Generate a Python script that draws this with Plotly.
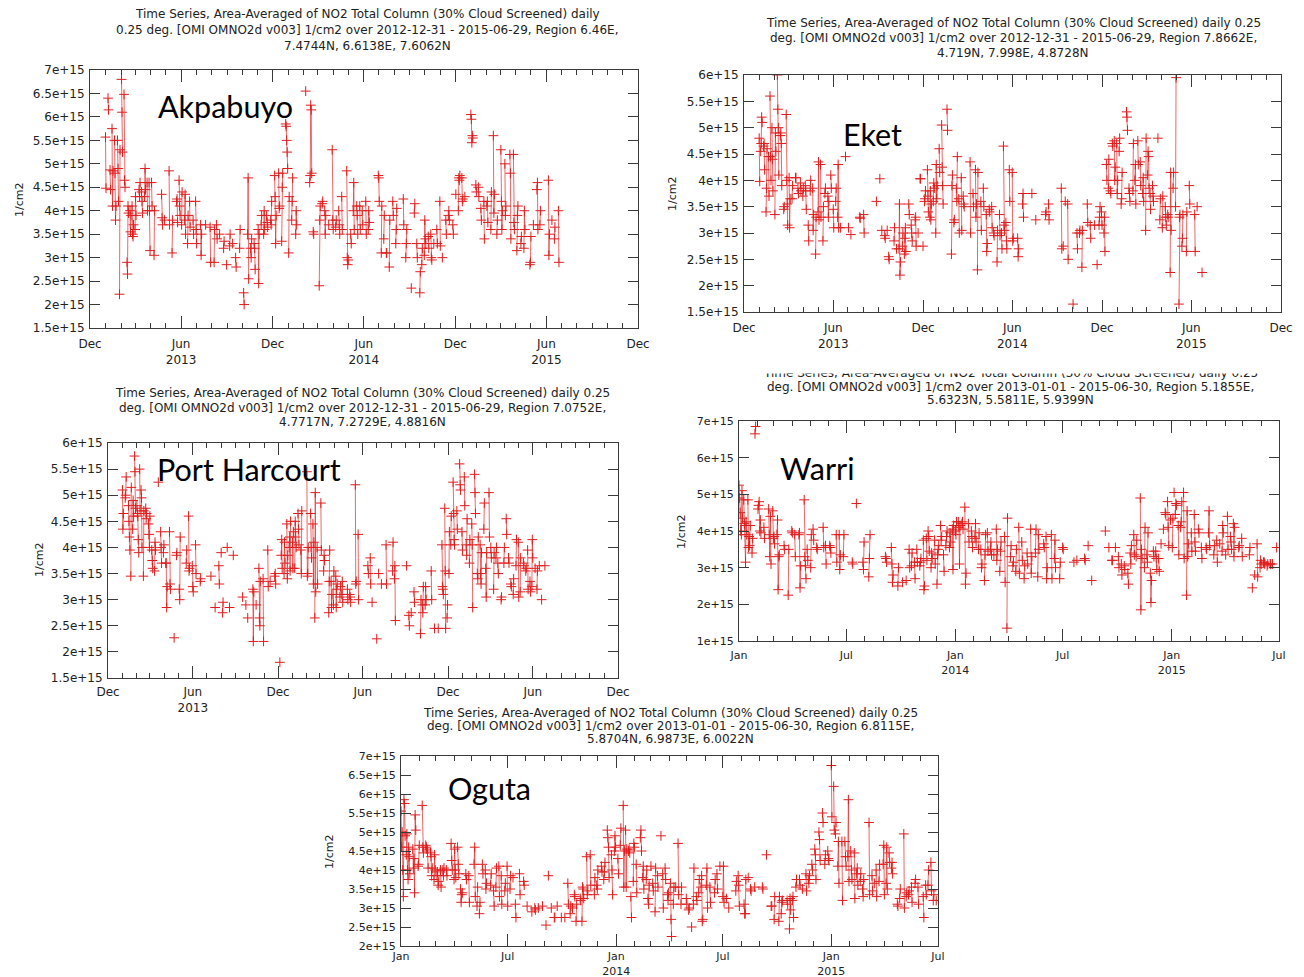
import plotly.graph_objects as go
import pandas as pd

# ---------------- data (day offset from 2013-01-01, NO2 column in 1e15 molec/cm2) ----------------
akp_obs = [
 (0,5.57),(1,4.48),(5,6.40),(6,6.15),(9,4.87),(10,4.45),(13,5.75),(14,4.10),(15,4.85),
 (18,5.50),(19,4.80),(20,3.80),(21,4.10),(24,5.50),(25,4.90),(26,4.20),(28,2.22),(29,5.30),
 (32,6.80),(33,6.10),(34,5.25),(37,6.48),(38,4.65),(39,4.50),(43,2.90),(44,2.65),(45,4.10),(46,3.95),
 (49,4.00),(50,3.55),(51,3.90),(53,4.10),(54,3.50),(55,3.45),(56,3.70),(59,3.60),(60,4.30),(61,3.90),
 (67,4.45),(68,4.30),(69,4.60),(72,4.40),(73,4.20),(74,3.95),(78,4.30),(79,4.90),(80,4.45),
 (83,4.60),(84,4.00),(87,4.60),(88,4.00),(89,3.15),(92,4.60),(93,4.10),(97,3.05),(98,4.00),
 (112,4.35),(113,3.85),(114,3.70),(118,3.80),(127,4.85),(128,3.70),(133,3.10),(134,3.80),
 (142,4.20),(143,4.25),(144,3.75),(147,4.65),(148,4.10),(149,3.90),(152,3.70),(153,4.40),
 (158,3.80),(159,4.35),(160,3.50),(164,3.30),(165,3.90),(168,4.20),(169,3.65),(175,3.80),(176,3.50),
 (180,4.20),(181,3.60),(182,3.30),(190,3.70),(191,3.05),(192,3.50),(200,3.70),(209,3.65),(210,2.90),
 (217,2.90),(218,3.60),(222,3.70),(223,3.40),(228,3.50),(236,3.20),(237,3.35),(242,2.85),
 (248,3.25),(249,3.50),(254,3.30),(260,3.00),(261,2.80),(268,3.20),(269,3.60),(276,2.25),(277,2.00),
 (284,3.50),(285,4.70),(286,2.55),(290,3.20),(291,3.00),(292,3.40),(297,3.30),(298,3.20),(299,2.75),
 (305,3.60),(306,2.45),(307,3.50),(311,3.70),(312,3.90),(316,3.50),(317,4.00),(318,3.60),
 (322,3.90),(323,3.75),(324,3.65),(330,3.80),(331,3.70),(332,4.20),(338,4.75),(339,4.30),(340,3.30),(341,3.90),
 (346,4.80),(347,4.05),(348,4.10),(352,3.35),(353,4.50),(354,4.80),
 (360,5.85),(361,5.80),(362,5.50),(363,5.25),(364,4.90),(366,3.10),(367,4.30),
 (372,3.80),(373,4.20),(374,4.70),(380,3.50),(381,4.00),(382,3.70),(400,6.55),
 (408,4.60),(409,4.75),(410,6.25),(411,6.15),(412,4.80),(415,3.55),(416,3.50),
 (427,2.40),(428,3.80),(429,4.10),(433,4.15),(434,4.20),(438,4.00),(439,3.50),(440,3.90),(446,3.70),
 (453,5.30),(454,3.80),(455,3.60),(460,3.65),(461,3.80),(466,4.00),(467,3.70),(468,3.50),
 (472,4.30),(473,3.60),(482,4.85),(483,3.00),(484,2.85),(485,2.95),(490,3.50),(491,3.30),
 (495,4.00),(496,4.60),(497,3.60),(502,4.10),(503,3.90),(504,3.50),(508,4.10),(509,3.60),
 (513,4.00),(514,3.70),(520,4.20),(521,3.50),(525,3.60),(526,4.00),(527,3.75),
 (545,4.75),(546,4.70),(547,4.20),(551,3.10),(552,4.10),(556,3.40),(557,3.90),(561,3.10),(562,3.10),
 (567,2.80),(568,3.80),(574,4.20),(575,3.90),(580,3.30),(581,3.60),(582,4.05),
 (595,4.25),(596,3.70),(600,3.00),(601,3.30),(602,3.60),(611,2.35),(617,3.95),(618,4.15),
 (622,3.30),(623,3.00),(628,2.25),(629,2.70),(632,2.85),(633,3.20),(637,3.05),(638,3.80),(639,3.40),(640,3.30),
 (645,3.45),(646,3.20),(650,3.50),(651,3.00),(652,2.95),(656,3.30),(662,3.60),(663,3.30),
 (668,4.20),(669,3.25),(673,3.00),(680,3.80),(681,3.50),(685,3.90),(686,4.00),(687,3.80),
 (694,3.70),(695,3.50),(700,4.35),(705,4.00),(706,4.70),(707,4.65),(708,4.75),
 (712,4.70),(713,4.20),(714,4.25),(718,4.30),(730,6.05),(731,5.95),(732,5.45),(733,5.60),(734,5.55),
 (740,4.55),(741,4.40),(745,4.50),(746,4.30),(750,4.05),(751,3.80),(756,4.20),(757,3.40),
 (762,4.10),(763,4.20),(764,3.75),(770,3.60),(771,4.40),(775,5.60),(776,3.95),(777,4.35),
 (782,3.50),(783,3.80),(790,5.30),(791,4.20),(792,3.60),(793,4.00),(798,5.00),(799,3.90),(800,4.10),
 (808,5.20),(809,4.80),(810,3.40),(815,5.20),(816,3.75),(817,3.60),(822,3.15),(823,3.90),(824,4.10),
 (830,3.30),(831,3.45),(836,3.20),(837,4.00),(838,3.60),(848,2.85),(849,2.90),(850,3.45),(855,3.70),
 (862,4.45),(863,4.60),(864,3.60),(868,3.70),(869,4.00),(885,4.65),(886,3.05),(887,3.50),(892,3.80),
 (897,3.40),(898,3.65),(905,4.00),(906,2.90),
]

eket_obs = [
 (0,4.80),(1,3.98),(3,4.55),(4,4.70),(5,5.20),(6,5.10),(9,4.65),(10,4.70),(11,4.20),
 (14,3.40),(15,3.85),(16,4.60),(19,4.45),(20,3.70),(22,5.60),(23,4.45),(24,4.00),
 (26,5.00),(27,4.40),(28,3.80),(32,3.35),(33,4.90),(34,4.55),(37,6.00),(38,5.35),(39,5.00),(40,4.10),
 (43,4.85),(44,4.90),(45,4.70),(46,3.90),(50,3.45),(51,3.50),(55,5.25),(56,4.00),(57,3.55),(58,3.15),
 (61,4.05),(62,3.10),(63,3.65),(67,3.65),(68,3.90),(74,4.05),(75,4.05),(79,3.85),(80,3.75),
 (84,3.95),(85,3.80),(89,3.70),(90,3.85),(94,3.90),(95,3.80),(96,3.45),(100,3.15),(101,2.85),
 (104,3.80),(105,4.00),(109,3.85),(110,3.05),(111,3.35),(115,2.60),(116,3.30),
 (120,3.40),(121,4.35),(122,3.25),(125,4.30),(126,3.30),(130,2.85),(131,3.50),(134,3.75),(135,3.85),
 (140,3.70),(141,3.30),(142,3.60),(146,4.10),(147,3.85),(151,3.45),(152,3.10),(156,3.60),(157,3.85),
 (160,3.30),(161,4.30),(162,3.10),(166,3.10),(176,4.45),(182,3.10),(187,2.97),
 (205,3.30),(206,3.28),(213,3.35),(214,3.00),(239,3.60),(246,4.03),(250,3.05),
 (256,2.95),(257,2.90),(261,3.05),(264,2.55),(265,2.50),(275,2.85),(276,3.10),(280,2.70),
 (285,2.70),(286,3.55),(287,2.20),(288,2.45),(292,2.75),(293,3.00),(296,2.60),(297,2.90),(298,3.10),(299,2.65),
 (305,3.55),(306,3.35),(310,3.15),(311,3.00),(312,2.85),(318,3.25),(319,3.30),(320,2.75),
 (324,3.00),(328,4.03),(329,4.03),(334,2.75),(337,3.60),(338,3.65),(339,3.80),
 (343,4.20),(344,3.70),(345,3.40),(348,3.30),(349,3.80),(350,3.25),(351,3.55),
 (355,3.60),(356,3.95),(357,3.85),(360,3.00),(361,4.30),(362,3.65),(363,3.90),(367,4.60),(368,4.15),
 (372,5.05),(373,4.25),(374,3.90),(375,3.55),(383,5.35),(384,4.95),(392,2.60),(393,3.90),(394,4.10),
 (397,3.20),(398,3.25),(402,3.85),(403,3.60),(404,4.45),(407,3.65),(408,3.00),(412,4.05),(413,3.05),
 (416,3.70),(417,3.55),(418,3.50),(430,4.35),(431,3.00),(436,3.75),(437,3.50),
 (441,4.20),(442,3.30),(443,3.55),(445,2.30),(446,4.15),(452,3.60),(453,3.05),(457,3.85),(458,3.50),
 (463,3.35),(464,2.65),(465,2.80),(469,3.45),(470,3.40),(474,3.50),(475,3.10),(478,3.00),(479,2.95),
 (485,2.45),(486,3.05),(490,3.35),(491,2.95),(494,3.00),(495,2.70),(498,4.65),(499,3.15),(500,3.05),
 (503,3.20),(504,2.85),(505,2.70),(510,4.20),(511,3.60),(516,4.15),(517,2.85),(518,2.90),
 (527,2.90),(528,2.55),(529,2.70),(537,3.55),(538,3.75),(539,3.30),(556,3.75),(564,3.25),
 (584,3.35),(585,3.40),(590,3.55),(591,3.25),(616,3.85),(617,2.70),(620,2.75),(624,3.60),
 (629,3.55),(630,2.50),(640,1.65),(648,3.00),(649,2.70),(653,3.00),(654,3.05),(658,2.35),(659,3.05),
 (669,3.55),(670,3.20),(675,3.15),(676,2.90),(684,3.15),(689,2.40),(693,3.15),(694,3.30),(695,3.50),
 (698,3.40),(699,3.15),(703,3.00),(704,3.30),(705,2.65),(708,4.30),(709,4.00),(712,3.85),(713,4.40),
 (716,3.80),(717,3.75),(720,4.70),(721,4.65),(724,4.75),(725,4.00),(726,4.25),(729,4.70),(730,3.75),(731,4.00),
 (734,4.55),(735,4.80),(738,3.55),(739,3.65),(740,4.15),(749,5.30),(750,5.20),(751,4.95),
 (754,3.85),(755,3.75),(756,3.60),(762,3.80),(763,4.70),(766,4.00),(767,4.30),(768,3.55),
 (772,4.75),(773,4.30),(777,4.35),(778,3.90),(782,3.75),(783,4.05),(784,3.60),(788,3.05),(789,4.80),
 (792,4.10),(793,4.55),(794,4.45),(795,3.85),(797,3.75),(798,3.45),(802,3.90),(803,3.70),(804,3.60),
 (813,4.80),(817,3.25),(818,3.65),(822,3.10),(823,3.70),(828,3.50),(829,3.30),(830,3.15),
 (833,3.35),(834,3.30),(838,2.25),(839,4.15),(840,3.05),(844,3.85),(845,4.15),(849,3.50),(850,5.95),
 (856,1.65),(857,3.30),(858,3.35),(862,2.75),(863,2.90),(864,3.35),(871,2.65),(872,3.40),
 (877,3.90),(878,3.55),(888,3.35),(889,2.65),(893,3.50),(903,2.25),
]

phc_obs = [
 (0,5.10),(1,4.35),(2,4.65),(6,4.95),(7,5.00),(8,5.35),(13,4.80),(14,4.50),(15,4.20),(16,3.95),
 (18,3.45),(19,5.15),(22,4.35),(23,4.90),(24,4.60),(26,5.75),(27,5.45),(28,4.75),
 (31,4.80),(32,4.65),(33,4.60),(34,4.15),(35,3.90),(37,5.50),(38,4.70),(40,5.10),(41,4.95),(42,4.00),
 (45,3.45),(46,4.70),(50,4.75),(51,4.55),(52,4.65),(56,4.45),(57,4.25),(58,4.00),(59,4.60),
 (63,3.95),(64,3.75),(65,3.60),(69,3.55),(70,4.10),(71,3.95),(77,5.25),(82,4.30),(83,4.00),(84,3.70),
 (88,3.90),(89,4.05),(93,3.70),(94,3.70),(95,2.85),(96,3.25),(101,4.30),(102,3.30),(103,3.20),
 (111,2.27),(116,3.85),(117,3.90),(122,3.20),(123,3.00),(124,4.20),(137,3.70),(138,3.95),
 (142,4.60),(143,3.55),(144,3.60),(150,3.65),(151,3.25),(152,3.15),(157,4.05),(158,3.50),
 (167,3.35),(168,3.40),(190,3.45),(199,2.85),(207,3.65),(208,3.30),(212,3.90),(215,2.75),(216,2.95),
 (225,4.00),(230,2.85),(238,3.85),(258,3.05),(265,2.90),(269,2.65),(280,3.20),(281,2.20),(282,3.15),
 (287,2.90),(293,3.60),(294,2.65),(295,2.50),(296,3.35),(302,3.40),(303,2.20),(312,3.95),(313,3.25),
 (317,3.35),(327,3.45),(328,3.50),(329,3.30),(338,1.80),(341,3.85),(342,4.15),(343,3.60),
 (347,3.50),(348,4.10),(349,3.70),(353,4.45),(354,3.40),(355,3.85),(358,4.00),(359,4.20),(360,3.55),(361,4.50),
 (365,4.10),(366,3.60),(367,4.30),(370,3.60),(371,4.50),(372,4.20),(373,4.00),(377,4.65),(378,4.35),(379,4.05),
 (383,3.95),(384,3.50),(385,4.70),(396,5.45),(397,3.45),(398,3.50),(399,4.00),(404,4.65),(405,4.00),(406,3.80),
 (409,4.45),(410,3.30),(411,4.10),(413,2.65),(414,5.05),(415,3.15),(418,4.00),(419,3.30),
 (426,4.85),(427,3.95),(432,3.55),(433,3.85),(434,3.75),(443,2.75),(444,3.35),(445,3.95),
 (448,3.35),(449,2.85),(450,3.10),(453,2.90),(454,3.55),(458,3.45),(459,2.85),(460,3.20),(461,3.30),
 (467,3.05),(468,3.25),(471,3.10),(472,3.35),(473,2.95),(483,3.20),(484,3.00),(488,3.10),(489,3.05),(490,2.95),
 (500,5.20),(501,3.30),(502,3.35),(506,4.25),(507,3.00),(527,3.65),(528,3.50),(532,3.80),(533,3.30),
 (536,2.95),(546,2.25),(550,3.50),(556,3.30),(566,4.05),(567,3.30),(580,3.55),(581,4.10),
 (584,3.40),(585,3.65),(586,2.60),(610,3.65),(615,2.70),(616,2.50),(620,2.75),(626,3.15),(627,2.95),
 (640,2.35),(641,3.00),(644,2.90),(645,2.75),(646,3.25),(650,2.90),(651,3.25),(652,3.00),
 (663,3.55),(664,3.00),(670,2.45),(678,2.45),(686,4.05),(687,3.25),(688,3.20),(689,3.10),
 (692,4.75),(693,3.55),(694,2.45),(697,2.65),(698,2.90),(701,3.50),(702,4.30),(705,4.05),(706,4.60),
 (710,5.25),(711,4.65),(712,4.15),(713,4.05),(718,4.70),(719,4.35),(724,5.60),(725,5.20),(726,5.10),
 (729,4.30),(730,3.95),(734,5.35),(735,4.80),(738,4.05),(739,3.85),(740,4.55),(745,3.70),(746,4.15),
 (750,4.45),(751,4.05),(752,2.85),(756,5.40),(757,5.05),(758,4.65),(762,3.50),(763,3.40),(764,4.20),
 (768,4.05),(769,3.50),(770,3.30),(771,3.90),(776,4.35),(777,4.85),(780,3.60),(781,3.05),(782,3.90),
 (787,5.05),(788,4.20),(791,4.00),(792,3.80),(797,3.20),(798,3.90),(802,3.80),(803,4.00),
 (806,3.70),(807,3.50),(813,3.00),(814,3.05),(819,3.70),(820,4.00),(824,4.55),(825,4.25),
 (829,3.80),(830,3.70),(834,3.30),(835,3.25),(839,3.10),(840,3.40),(845,3.65),(846,4.15),
 (850,4.10),(851,3.05),(854,3.15),(855,3.80),(861,3.70),(862,3.65),(866,3.55),(867,3.60),
 (870,3.95),(871,3.20),(875,3.35),(876,3.15),(879,3.25),(880,4.15),(881,3.80),(886,3.60),
 (890,3.20),(891,3.55),(895,3.65),(900,3.00),(907,3.65),
]

war_obs = [
 (0,5.25),(1,4.90),(2,4.50),(3,4.00),(4,3.90),(5,5.10),(6,4.35),(8,4.85),(9,4.20),(10,4.15),(11,3.15),(12,4.25),(13,3.90),
 (15,4.85),(16,3.55),(17,3.85),(18,3.60),(19,4.15),(22,3.40),(23,3.80),(27,6.65),(28,6.85),
 (32,4.60),(33,4.70),(34,4.80),(35,4.00),(36,4.30),(37,3.95),(42,4.10),(43,3.80),
 (50,4.60),(51,3.90),(52,3.30),(53,4.40),(54,3.10),(57,4.55),(58,3.80),(59,3.85),(60,3.65),
 (64,3.90),(65,4.30),(66,2.40),(67,3.30),(68,3.35),(76,3.60),(77,3.50),(83,2.25),(84,3.50),
 (89,4.00),(90,3.95),(94,3.90),(95,3.30),(101,3.90),(102,3.95),(103,2.45),(104,3.05),
 (110,4.85),(111,3.30),(112,3.05),(113,2.70),(115,3.50),(116,3.20),(121,3.00),(122,3.90),
 (125,4.05),(126,3.75),(131,3.55),(132,3.50),(142,4.10),(143,3.55),(146,3.60),(147,3.10),
 (153,3.60),(154,3.55),(155,3.40),(164,3.90),(165,3.15),(169,3.90),(170,2.95),(171,3.35),
 (176,3.30),(177,3.90),(191,3.15),(192,3.10),(198,4.75),(209,3.15),(210,2.95),(211,3.70),
 (219,2.75),(220,3.25),(221,3.90),(247,3.30),(248,3.25),(249,3.15),(257,3.55),(258,3.10),(259,2.60),(260,2.80),
 (268,2.50),(269,3.00),(276,2.60),(282,2.65),(287,3.50),(288,3.00),(291,3.05),(292,3.40),
 (296,3.15),(297,2.70),(300,3.50),(301,3.15),(305,3.05),(306,3.15),(307,3.25),(311,3.75),(312,2.40),(313,2.50),
 (316,3.80),(317,3.20),(319,4.00),(320,3.85),(321,3.45),(324,3.00),(325,3.40),(326,3.25),
 (330,3.75),(331,3.10),(334,2.55),(335,3.35),(336,3.50),(337,3.60),(340,4.15),(341,3.75),(342,3.85),
 (345,3.35),(346,2.90),(349,3.60),(350,3.85),(351,4.00),(355,3.55),(356,3.95),(357,3.70),
 (360,4.05),(361,2.95),(362,4.15),(365,4.00),(366,3.90),(367,4.25),(370,4.25),(371,4.10),(372,3.10),(373,4.15),
 (376,4.20),(377,4.25),(378,4.05),(381,4.65),(382,2.55),(383,2.85),(387,4.20),(388,3.70),
 (392,4.00),(393,3.85),(394,3.55),(398,3.80),(399,4.20),(400,3.70),(404,3.50),(405,3.95),
 (408,3.50),(409,3.00),(410,3.10),(414,2.65),(415,3.35),(416,3.90),(419,3.95),(420,3.45),
 (424,3.50),(425,3.70),(426,3.35),(430,3.35),(434,4.05),(435,3.20),(436,3.50),(440,2.90),(441,3.45),(442,3.70),
 (448,3.85),(449,2.60),(452,1.35),(453,4.35),(458,3.30),(459,3.60),(462,3.05),(463,3.15),
 (467,2.90),(468,3.50),(472,4.10),(473,2.85),(477,3.70),(478,3.20),(481,2.70),(482,3.05),
 (486,3.40),(487,3.10),(492,4.05),(493,2.85),(494,3.30),(500,3.40),(501,4.05),(504,2.75),(505,3.90),(506,3.50),
 (514,3.65),(515,3.55),(518,3.85),(519,2.70),(520,3.00),(527,3.90),(528,2.70),(532,3.25),(533,3.75),(534,3.00),
 (541,2.70),(542,3.15),(546,3.55),(547,3.50),(565,3.15),(570,3.20),(583,3.25),(584,3.20),(589,3.60),
 (595,2.65),(618,4.00),(624,3.55),(629,3.20),(630,3.20),(635,3.55),(640,3.30),(641,3.00),
 (645,3.10),(646,2.80),(650,3.05),(651,2.95),(656,2.85),(657,2.55),(660,3.40),(661,3.10),(662,3.60),
 (666,3.90),(667,3.35),(670,3.30),(671,3.75),(677,4.90),(678,1.85),(679,3.50),(680,3.25),
 (684,3.00),(685,4.10),(688,3.35),(689,3.15),(690,3.95),(694,2.85),(695,2.05),(696,2.65),
 (699,3.45),(700,3.30),(703,3.45),(704,3.25),(705,2.95),(708,3.25),(709,2.90),(712,3.65),(716,4.05),
 (719,4.50),(720,4.45),(723,4.80),(724,4.10),(725,3.60),(728,4.30),(731,3.55),(732,4.35),(734,5.05),
 (736,4.45),(737,4.75),(738,4.70),(741,4.15),(742,3.35),(745,4.10),(746,4.25),(747,4.80),
 (750,5.05),(751,3.25),(755,2.25),(756,4.55),(757,3.30),(758,3.65),(763,3.95),(764,3.45),
 (768,4.45),(769,3.70),(770,3.45),(775,4.05),(776,3.95),(780,3.55),(781,3.25),(788,3.55),(789,3.50),
 (792,3.95),(793,4.55),(794,3.60),(801,3.35),(802,3.60),(806,3.75),(807,3.15),(811,3.65),
 (815,3.45),(816,4.15),(817,3.95),(821,3.35),(824,4.40),(825,3.50),(829,3.85),(830,3.70),(831,3.50),
 (834,4.20),(835,3.30),(836,4.10),(843,3.55),(844,3.60),(848,3.80),(849,3.30),(861,3.35),(862,3.55),
 (866,2.45),(870,2.80),(874,3.65),(875,2.75),(879,3.00),(880,3.20),(881,3.10),(885,3.15),(886,3.15),(887,3.10),
 (891,3.05),(892,3.10),(896,3.10),(897,3.10),(900,3.10),(907,3.55),
]

ogu_obs = [
 (0,5.55),(1,4.60),(2,5.00),(3,4.00),(4,3.30),(5,5.85),(6,5.75),(7,4.90),
 (9,4.40),(10,4.95),(11,4.00),(12,3.75),(13,4.60),(14,4.35),(15,3.90),
 (20,4.55),(21,4.05),(22,4.30),(23,3.40),(24,5.45),(25,5.05),(29,4.10),(30,4.15),(31,4.65),
 (36,5.70),(37,4.60),(38,4.45),(42,4.65),(43,4.60),(44,4.55),(45,4.50),(46,4.05),
 (50,4.45),(51,4.35),(52,3.85),(53,4.05),(56,3.75),(57,4.40),(58,4.00),(61,3.85),(62,3.95),(63,3.60),(64,3.70),
 (67,4.00),(68,3.55),(71,4.00),(72,3.85),(73,4.05),(77,4.00),(78,3.85),(85,4.70),(86,4.25),(87,4.00),
 (90,3.75),(91,4.55),(92,4.00),(93,3.80),(96,4.60),(97,4.15),(98,3.90),(101,3.50),(102,3.15),(103,3.35),(104,3.40),
 (110,3.90),(111,3.75),(115,3.85),(116,3.15),(124,4.15),(125,4.60),(126,3.30),(129,3.05),(130,3.55),
 (133,2.85),(134,3.15),(138,4.15),(139,3.90),(143,4.00),(144,3.50),(145,3.65),(152,3.60),(153,3.90),
 (157,3.45),(158,3.05),(161,3.55),(162,4.05),(166,4.10),(167,3.30),(170,3.85),(171,3.10),
 (176,3.45),(177,3.65),(180,4.10),(181,3.05),(185,3.50),(186,3.85),(190,3.80),(194,3.10),(195,2.75),
 (201,3.90),(202,3.35),(208,3.70),(209,3.60),(214,3.05),(222,2.90),(227,3.00),(228,2.95),(233,3.00),
 (240,3.05),(246,2.55),(250,3.85),(255,3.00),(260,2.75),(261,2.75),(265,3.05),(272,2.75),(278,2.75),
 (283,3.65),(284,3.10),(287,2.85),(288,3.05),(291,3.00),(294,3.35),(295,3.30),(297,2.65),(298,3.10),
 (304,3.25),(305,3.20),(307,2.65),(308,3.55),(309,3.50),(310,3.25),(315,4.35),(316,3.35),(317,3.45),
 (321,4.40),(322,3.60),(328,3.35),(329,3.80),(332,3.60),(333,3.50),(334,4.00),(340,4.10),(341,3.95),
 (344,3.75),(345,3.95),(346,4.20),(350,5.05),(351,4.85),(352,4.60),(353,3.80),(357,4.40),(358,4.00),(359,3.35),
 (362,4.50),(363,4.90),(364,4.60),(368,4.30),(369,3.90),(372,4.65),(373,5.10),(377,5.70),(378,3.55),(379,4.50),
 (381,5.05),(382,3.55),(383,4.55),(386,4.50),(387,4.55),(388,4.45),(390,3.30),(391,2.75),
 (394,3.70),(395,4.70),(396,4.60),(399,4.15),(400,3.40),(406,4.85),(407,5.05),(408,4.50),
 (410,3.80),(411,4.10),(412,3.50),(416,3.75),(417,4.00),(419,3.25),(420,3.10),(421,3.60),(424,4.10),
 (427,3.65),(428,3.45),(431,2.90),(432,4.05),(435,3.85),(436,3.55),(441,4.90),(444,3.90),(445,3.00),
 (448,4.05),(449,3.75),(452,3.35),(453,3.20),(454,3.40),(457,3.65),(458,2.70),(459,2.25),
 (462,3.10),(463,3.55),(466,3.55),(470,4.70),(471,3.35),(475,3.10),(476,3.55),(484,3.25),(485,3.10),
 (488,2.95),(489,3.00),(493,2.50),(496,3.10),(497,4.05),(501,3.30),(502,3.20),(505,3.40),(506,3.75),
 (509,3.55),(510,3.85),(511,2.65),(512,2.70),(518,3.60),(519,4.05),(520,3.00),(524,3.55),(525,3.15),
 (532,3.40),(533,3.75),(536,3.90),(537,3.50),(541,4.10),(546,3.30),(547,4.10),(548,3.15),(552,3.25),
 (556,3.00),(568,3.45),(569,3.70),(572,3.85),(573,3.60),(574,3.05),(582,3.10),(583,2.85),(584,2.85),(585,3.75),
 (589,3.80),(593,3.50),(594,3.45),(600,3.55),(613,3.55),(614,3.50),(620,4.40),(628,3.05),(629,3.05),
 (633,2.70),(634,3.30),(641,2.65),(642,3.30),(645,2.85),(646,3.15),(647,3.20),(655,3.20),(656,3.10),
 (659,2.45),(660,3.25),(661,2.95),(664,3.20),(665,3.30),(666,2.75),(670,3.55),(671,3.75),
 (676,3.75),(677,3.60),(681,3.50),(687,3.90),(688,3.45),(691,3.75),(692,3.65),(693,3.85),
 (697,4.15),(698,4.00),(702,4.55),(703,4.40),(704,3.75),(709,5.00),(710,4.80),(711,4.25),
 (715,5.50),(716,5.25),(719,4.15),(720,4.40),(724,4.50),(725,4.30),(726,4.25),(730,6.75),(731,5.40),
 (734,6.20),(735,5.05),(737,4.95),(738,5.25),(741,4.10),(742,4.75),(743,3.65),(748,4.75),(749,3.20),
 (753,4.75),(754,4.35),(755,4.10),(758,4.35),(759,5.85),(760,3.70),(763,4.50),(764,4.00),(765,3.75),
 (769,4.45),(770,3.25),(773,3.90),(774,4.05),(775,3.60),(779,3.70),(780,3.90),(783,3.50),(784,3.30),(785,3.75),
 (794,5.25),(795,3.35),(799,3.85),(800,3.45),(803,3.65),(806,4.00),(807,3.30),(811,3.70),(812,4.15),
 (818,4.15),(819,4.65),(820,3.35),(823,3.65),(824,4.60),(825,3.50),(828,4.45),(829,4.20),
 (832,4.05),(833,4.20),(834,3.90),(842,3.10),(843,3.05),(846,3.25),(847,3.50),(853,4.95),(854,3.00),
 (857,3.30),(858,3.40),(861,3.35),(862,3.45),(866,3.55),(867,3.15),(872,3.65),(873,3.75),
 (877,3.55),(878,3.10),(886,3.30),(887,2.75),(890,3.60),(891,3.35),(894,3.60),(895,4.00),
 (899,4.20),(900,3.45),(903,3.20),(904,3.35),(908,3.20),
]

# tick labels
dec_jun_vals = ["2012-12-01", "2013-06-01", "2013-12-01", "2014-06-01", "2014-12-01", "2015-06-01", "2015-12-01"]
dec_jun_text = ["Dec", "Jun<br>2013", "Dec", "Jun<br>2014", "Dec", "Jun<br>2015", "Dec"]
dec_jun_text_ph = ["Dec", "Jun<br>2013", "Dec", "Jun", "Dec", "Jun", "Dec"]
jan_jul_vals = ["2013-01-01", "2013-07-01", "2014-01-01", "2014-07-01", "2015-01-01", "2015-07-01"]
jan_jul_text = ["Jan", "Jul", "Jan<br>2014", "Jul", "Jan<br>2015", "Jul"]

titles = {
    "akp": ["Time Series, Area-Averaged of NO2 Total Column (30% Cloud Screened) daily",
            "0.25 deg. [OMI OMNO2d v003] 1/cm2 over 2012-12-31 - 2015-06-29, Region 6.46E,",
            "7.4744N, 6.6138E, 7.6062N"],
    "eket": ["Time Series, Area-Averaged of NO2 Total Column (30% Cloud Screened) daily 0.25",
             "deg. [OMI OMNO2d v003] 1/cm2 over 2012-12-31 - 2015-06-29, Region 7.8662E,",
             "4.719N, 7.998E, 4.8728N"],
    "phc": ["Time Series, Area-Averaged of NO2 Total Column (30% Cloud Screened) daily 0.25",
            "deg. [OMI OMNO2d v003] 1/cm2 over 2012-12-31 - 2015-06-29, Region 7.0752E,",
            "4.7717N, 7.2729E, 4.8816N"],
    "war": ["Time Series, Area-Averaged of NO2 Total Column (30% Cloud Screened) daily 0.25",
            "deg. [OMI OMNO2d v003] 1/cm2 over 2013-01-01 - 2015-06-30, Region 5.1855E,",
            "5.6323N, 5.5811E, 5.9399N"],
    "ogu": ["Time Series, Area-Averaged of NO2 Total Column (30% Cloud Screened) daily 0.25",
            "deg. [OMI OMNO2d v003] 1/cm2 over 2013-01-01 - 2015-06-30, Region 6.8115E,",
            "5.8704N, 6.9873E, 6.0022N"],
}

# ---------------- figure ----------------
W, H = 1304, 977
BASE = pd.Timestamp("2013-01-01")
RED = "rgb(226,28,28)"
AX = "#3a3a3a"


def expand(obs):
    xs, ys = [], []
    prev = None
    for d, v in obs:
        if prev is not None and d - prev > 1:
            xs.append(None)
            ys.append(None)
        xs.append((BASE + pd.Timedelta(days=d)).strftime("%Y-%m-%d"))
        ys.append(v * 1e15)
        prev = d
    return xs, ys


def ticks_y(lo, hi, step):
    vals, txt = [], []
    v = lo
    while v <= hi + 1e-9:
        vals.append(v * 1e15)
        txt.append(("%g" % v) + "e+15")
        v += step
    return vals, txt


panels = [
    dict(key="akp", obs=akp_obs, box=(90, 638, 70, 328), xr=["2012-12-01", "2015-12-01"], tv=dec_jun_vals, tt=dec_jun_text,
         y=(1.5, 7.0, 0.5), lab="Akpabuyo", labx=156, laby=106, tcx=367, tys=(14, 30, 46), ylx=19, yly=200, fs=12, xso=5),
    dict(key="eket", obs=eket_obs, box=(744, 1281, 75, 312), xr=["2012-12-01", "2015-12-01"], tv=dec_jun_vals, tt=dec_jun_text,
         y=(1.5, 6.0, 0.5), lab="Eket", labx=841, laby=134, tcx=1013, tys=(23, 38, 53), ylx=672, yly=194, fs=12, xso=5),
    dict(key="phc", obs=phc_obs, box=(108, 618, 443, 678), xr=["2012-12-01", "2015-12-01"], tv=dec_jun_vals, tt=dec_jun_text_ph,
         y=(1.5, 6.0, 0.5), lab="Port Harcourt", labx=155, laby=469, tcx=362, tys=(393, 408, 422), ylx=39, yly=560, fs=12, xso=3),
    dict(key="war", obs=war_obs, box=(739, 1279, 421, 641), xr=["2013-01-01", "2015-07-01"], tv=jan_jul_vals, tt=jan_jul_text,
         y=(1.0, 7.0, 1.0), lab="Warri", labx=778, laby=468, tcx=1010, tys=(373, 387, 400), ylx=681, yly=532, fs=11, xso=4),
    dict(key="ogu", obs=ogu_obs, box=(401, 938, 756, 946), xr=["2013-01-01", "2015-07-01"], tv=jan_jul_vals, tt=jan_jul_text,
         y=(2.0, 7.0, 0.5), lab="Oguta", labx=446, laby=788, tcx=670, tys=(713, 726, 739), ylx=329, yly=852, fs=11, xso=0),
]

fig = go.Figure()
annotations = []
layout_axes = {}

for i, p in enumerate(panels, start=1):
    sfx = "" if i == 1 else str(i)
    xs, ys = expand(p["obs"])
    fig.add_trace(go.Scatter(
        x=xs, y=ys, mode="lines+markers", xaxis="x" + sfx, yaxis="y" + sfx,
        line=dict(color="rgba(226,40,40,0.7)", width=1),
        marker=dict(symbol="cross-thin", size=7, line=dict(color=RED, width=1), color=RED),
        connectgaps=False, showlegend=False, hoverinfo="skip"))
    l, r, t, b = p["box"]
    yv, yt = ticks_y(*p["y"])
    tfont = dict(family="DejaVu Sans", size=p["fs"], color="#222")
    layout_axes["xaxis" + sfx] = dict(
        domain=[l / W, r / W], anchor="y" + sfx, type="date", range=p["xr"],
        tickmode="array", tickvals=p["tv"], ticktext=p["tt"],
        ticks="inside", ticklen=12, tickwidth=1, tickcolor=AX, ticklabelstandoff=p["xso"],
        minor=dict(tickmode="linear", tick0="2012-12-01", dtick="M1", ticks="inside", ticklen=5,
                   tickwidth=1, tickcolor=AX, showgrid=False),
        showline=True, linecolor=AX, linewidth=1, mirror="ticks", showgrid=False, zeroline=False,
        tickfont=tfont, automargin=False, fixedrange=True)
    layout_axes["yaxis" + sfx] = dict(
        domain=[1 - b / H, 1 - t / H], anchor="x" + sfx, range=[yv[0], yv[-1]],
        tickmode="array", tickvals=yv, ticktext=yt,
        ticks="inside", ticklen=10, tickwidth=1, tickcolor=AX, ticklabelstandoff=2,
        showline=True, linecolor=AX, linewidth=1, mirror="ticks", showgrid=False, zeroline=False,
        tickfont=tfont, automargin=False, fixedrange=True)
    for line, ty in zip(titles[p["key"]], p["tys"]):
        annotations.append(dict(text=line, x=p["tcx"] / W, y=1 - ty / H, xref="paper", yref="paper",
                                xanchor="center", yanchor="middle", showarrow=False,
                                font=dict(family="DejaVu Sans", size=12, color="#222")))
    annotations.append(dict(text=p["lab"], x=p["labx"] / W, y=1 - p["laby"] / H, xref="paper", yref="paper",
                            xanchor="left", yanchor="middle", showarrow=False,
                            font=dict(family="Lato", size=30.5, color="#000")))
    annotations.append(dict(text="1/cm2", x=p["ylx"] / W, y=1 - p["yly"] / H, xref="paper", yref="paper",
                            xanchor="center", yanchor="middle", showarrow=False, textangle=-90,
                            font=dict(family="DejaVu Sans", size=11, color="#222")))

# the first Warri title line is half hidden in the source collage
annotations.append(dict(text=" ", x=1010 / W, y=1 - 374 / H, xref="paper", yref="paper",
                        xanchor="center", yanchor="bottom", showarrow=False, width=540, height=12,
                        borderpad=0, bgcolor="white", font=dict(size=4)))

fig.update_layout(
    width=W, height=H, margin=dict(l=0, r=0, t=0, b=0, pad=0, autoexpand=False),
    paper_bgcolor="white", plot_bgcolor="white",
    annotations=annotations, **layout_axes)

fig.write_html("out.html", config={"displayModeBar": False},
               post_script="document.body.style.margin='0';")
